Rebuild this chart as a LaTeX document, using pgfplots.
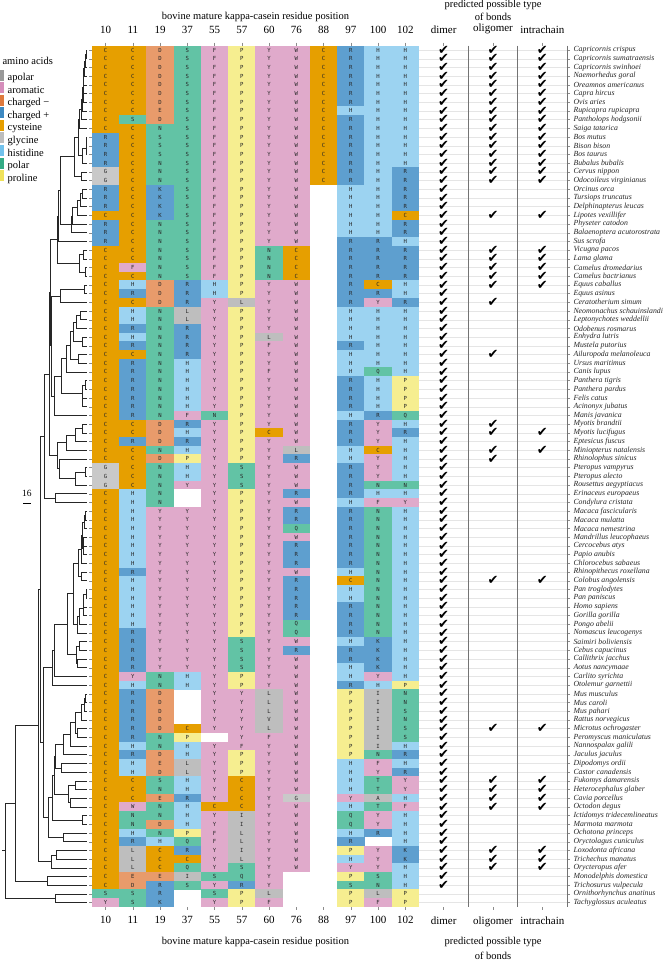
\documentclass[border=0pt]{standalone}
\usepackage{fontspec}
\setmainfont{Liberation Serif}
\newfontfamily\cellfontfam{DejaVu Sans Mono}
\newfontfamily\checkfontfam{DejaVu Sans}
\usepackage{pgfplots}
\pgfplotsset{compat=1.18}
\usepackage{pgfplotstable}

% cell colours
\definecolor{apolar}{HTML}{BEBEBE}
\definecolor{aromatic}{HTML}{E0AACB}
\definecolor{chneg}{HTML}{E89B6B}
\definecolor{chpos}{HTML}{5E9FCF}
\definecolor{cys}{HTML}{E69F00}
\definecolor{gly}{HTML}{C9C9C9}
\definecolor{his}{HTML}{9CD3F1}
\definecolor{polar}{HTML}{62C3A5}
\definecolor{pro}{HTML}{F6EE90}
% legend colours
\definecolor{apolarL}{HTML}{9A9A9A}
\definecolor{aromaticL}{HTML}{D58DBB}
\definecolor{chnegL}{HTML}{DE7A3E}
\definecolor{chposL}{HTML}{3D89C2}
\definecolor{cysL}{HTML}{E69F00}
\definecolor{glyL}{HTML}{BDBDBD}
\definecolor{hisL}{HTML}{72C2EC}
\definecolor{polarL}{HTML}{33AC86}
\definecolor{proL}{HTML}{F0E25A}

\pgfdeclareplotmark{cell}{\pgfpathrectangle{\pgfpoint{-13.75pt}{-4.45pt}}{\pgfpoint{27.5pt}{8.9pt}}\pgfusepathqfill}
\pgfdeclareplotmark{nothing}{}
\newcommand\aatext[1]{\if z#1\else#1\fi}

\pgfplotstableread{
row c10 c11 c19 c37 c55 c57 c60 c76 c88 c97 c100 c102
1 C C D S F P Y W C R H H
2 C C D S F P Y W C R H H
3 C C D S F P Y W C R H H
4 C C D S F P Y W C R H H
5 C C D S F P Y W C R H H
6 C C D S F P Y W C R H H
7 C C D S F P Y W C R H H
8 C C E S F P Y W C H H H
9 C S D S F P Y W C R H H
10 C C N S F P Y W C R H H
11 R C S S F P Y W C R H H
12 R C S S F P Y W C R H H
13 R C S S F P Y W C R H H
14 R C N S F P Y W C R H H
15 G C N S F P Y W C R H R
16 G C N S F P Y W C R H R
17 R C K S F P Y W z H H R
18 R C K S F P Y W z H H R
19 R C K S F P Y W z H H R
20 C C K S F P Y W z H H C
21 R C N S F P Y W z H H R
22 R C N S F P Y W z H H R
23 R C N S F P Y W z R R H
24 C C N S F P N C z R R R
25 C C N S F P N C z R R R
26 C F N S F P N C z R R R
27 C C N S F P N C z R R R
28 C H D R H P Y W z R C H
29 C R D R H P Y W z R R H
30 C C D R Y L Y W z R Y R
31 C H N L Y P Y W z H H H
32 C H N L Y P Y W z H H H
33 C R N R Y P Y W z H H H
34 C H N R Y P L W z H H H
35 C R N R Y P F W z R H H
36 C C N R Y P Y W z H H H
37 C R N H Y P Y W z H H H
38 C R N H Y P F W z H Q H
39 C R N H Y P Y W z R H P
40 C R N H Y P Y W z R H P
41 C R N H Y P Y W z R H P
42 C R N H Y P Y W z R H P
43 C R N F N P Y W z H R Q
44 C C D R Y P Y W z R Y H
45 C C D H Y P C W z R Y R
46 C R D R Y P Y W z R Y H
47 C C N H Y P Y L z H C H
48 C C D P Y P Y R z H Y H
49 G C N H Y S Y W z R Y H
50 G C N H Y S Y W z R Y H
51 G C N Y Y S Y W z R N N
52 C H N z Y P Y R z R H H
53 C H N z Y P Y W z H F Y
54 C H Y Y Y P Y R z R N H
55 C H Y Y Y P Y R z R N H
56 C H Y Y Y P Y Q z R N H
57 C H Y Y Y P Y W z R N H
58 C H Y Y Y P Y R z R N H
59 C H Y Y Y P Y R z R N H
60 C H Y Y Y P Y R z R N H
61 C R Y Y Y P Y W z H N H
62 C H Y Y Y P Y R z C N H
63 C H Y Y Y P Y R z H N H
64 C H Y Y Y P Y R z H N H
65 C H Y Y Y P Y R z R N H
66 C H Y Y Y P Y R z R N H
67 C H Y Y Y P Y Q z R N H
68 C R Y Y Y P Y Q z R N H
69 C R Y Y Y S Y W z H K H
70 C R Y Y Y S Y R z R K H
71 C R Y Y Y S Y W z R K H
72 C R Y Y Y S Y W z H K H
73 C Y N H Y P Y W z H Y H
74 C H N H Y P Y W z R H P
75 C R D z Y Y L W z P I N
76 C R D z Y Y L W z P I N
77 C R D z Y Y L W z P I S
78 C R D z Y Y V W z P I N
79 C R D C Y Y L W z P I S
80 C R N P z Y F W z P I S
81 C H N H Y F Y W z P I H
82 C R D H Y P Y W z P N R
83 C H E L Y P Y W z H F H
84 C H D L Y P Y W z H Y R
85 C C S H Y C Y W z H T Y
86 C C N H Y C Y W z H T Y
87 C C E R Y C Y G z Y A H
88 C W N H C C Y W z H T F
89 C N N H Y I Y W z Q Y H
90 C N D H Y I Y W z Q Y H
91 C H N P F L Y W z H R H
92 C R H Q F L Y W z R z H
93 C L C R Y I Y W z P Y K
94 C L C C Y L Y W z H Y K
95 C L C Q Y S Y W z Y Y H
96 C E E I S Q Y z z P S H
97 C D R S Y R Y z z S N H
98 S S R z S P L z z P L P
99 Y S K z Y P F z z P F P
}\aatable
% column positions 0..11 of the twelve residues
\pgfplotstablecreatecol[create col/set={0}]{p0}\aatable
\pgfplotstablecreatecol[create col/set={1}]{p1}\aatable
\pgfplotstablecreatecol[create col/set={2}]{p2}\aatable
\pgfplotstablecreatecol[create col/set={3}]{p3}\aatable
\pgfplotstablecreatecol[create col/set={4}]{p4}\aatable
\pgfplotstablecreatecol[create col/set={5}]{p5}\aatable
\pgfplotstablecreatecol[create col/set={6}]{p6}\aatable
\pgfplotstablecreatecol[create col/set={7}]{p7}\aatable
\pgfplotstablecreatecol[create col/set={8}]{p8}\aatable
\pgfplotstablecreatecol[create col/set={9}]{p9}\aatable
\pgfplotstablecreatecol[create col/set={10}]{p10}\aatable
\pgfplotstablecreatecol[create col/set={11}]{p11}\aatable

\pgfplotsset{
  aacell/.style={
    scatter, only marks, point meta=explicit symbolic,
    scatter/classes={
      A={mark=cell,apolar}, I={mark=cell,apolar}, L={mark=cell,apolar}, V={mark=cell,apolar},
      F={mark=cell,aromatic}, W={mark=cell,aromatic}, Y={mark=cell,aromatic},
      D={mark=cell,chneg}, E={mark=cell,chneg},
      K={mark=cell,chpos}, R={mark=cell,chpos},
      C={mark=cell,cys}, G={mark=cell,gly}, H={mark=cell,his},
      N={mark=cell,polar}, Q={mark=cell,polar}, S={mark=cell,polar}, T={mark=cell,polar},
      P={mark=cell,pro}, z={mark=nothing}},
  },
  aaletter/.style={
    only marks, mark=nothing,
    point meta=explicit symbolic,
    nodes near coords={\aatext{\pgfplotspointmeta}},
    nodes near coords align=center,
    every node near coord/.append style={font=\cellfontfam\fontsize{5.6}{5.6}\selectfont, text=black!85, inner sep=0pt, anchor=center},
  },
  chk/.style={only marks, mark=nothing,
    nodes near coords={\checkfontfam\fontsize{13}{13}\selectfont ✔},
    nodes near coords align=center,
    every node near coord/.append style={inner sep=0pt, anchor=center, text=black}},
}

\begin{document}
\begin{tikzpicture}
\useasboundingbox (0pt,0pt) rectangle (664pt,-963pt);

% ---------------- tree + legend ----------------
\begin{axis}[
  at={(0pt,-45.65pt)}, anchor=north west,
  scale only axis, width=87pt, height=861.3pt,
  xmin=-185, xmax=0, ymin=0.5, ymax=99.5, y dir=reverse,
  hide axis, clip=false,
  legend style={at={(rel axis cs:0,1)}, anchor=north west, xshift=-3pt, yshift=-24pt,
    draw=none, fill=none, inner sep=0pt, row sep=0pt,
    font=\fontsize{10.5}{10.5}\selectfont, nodes={inner sep=0pt},
    /tikz/every odd column/.append style={column sep=3.5pt}},
  legend cell align=left,
  legend image code/.code={\fill[#1] (0pt,-2.8pt) rectangle (7pt,8.2pt);},
]
\addplot[black!85, line width=0.5pt, unbounded coords=jump, forget plot] coordinates {
(0,1) (-1.5,1) (-1.5,2) (0,2) (nan,nan)
(-1.5,1.5) (-3,1.5) (-3,3) (0,3) (nan,nan)
(-3,2.25) (-5,2.25) (-5,4) (0,4) (nan,nan)
(-5,3.125) (-7,3.125) (-7,5) (0,5) (nan,nan)
(0,6) (-8,6) (-8,7) (0,7) (nan,nan)
(-7,4.0625) (-9,4.0625) (-9,6.5) (-8,6.5) (nan,nan)
(-9,5.28) (-10,5.28) (-10,8) (0,8) (nan,nan)
(-10,6.64) (-12,6.64) (-12,9) (0,9) (nan,nan)
(-12,7.82) (-16,7.82) (-16,10) (0,10) (nan,nan)
(0,11) (-1.5,11) (-1.5,12) (0,12) (nan,nan)
(-1.5,11.5) (-2.5,11.5) (-2.5,13) (0,13) (nan,nan)
(-2.5,12.25) (-10,12.25) (-10,14) (0,14) (nan,nan)
(-16,8.91) (-18,8.91) (-18,13.125) (-10,13.125) (nan,nan)
(0,15) (-12,15) (-12,16) (0,16) (nan,nan)
(-18,11.02) (-27,11.02) (-27,15.5) (-12,15.5) (nan,nan)
(0,17) (-10,17) (-10,18) (0,18) (nan,nan)
(-10,17.5) (-14,17.5) (-14,19) (0,19) (nan,nan)
(-14,18.25) (-20,18.25) (-20,20) (0,20) (nan,nan)
(-20,19.125) (-32,19.125) (-32,21) (0,21) (nan,nan)
(-32,20.06) (-34,20.06) (-34,22) (0,22) (nan,nan)
(-27,13.26) (-56,13.26) (-56,21.03) (-34,21.03) (nan,nan)
(-56,17.15) (-61,17.15) (-61,23) (0,23) (nan,nan)
(0,24) (-9,24) (-9,25) (0,25) (nan,nan)
(0,26) (-4,26) (-4,27) (0,27) (nan,nan)
(-9,24.5) (-16,24.5) (-16,26.5) (-4,26.5) (nan,nan)
(-61,20.07) (-64,20.07) (-64,25.5) (-16,25.5) (nan,nan)
(0,28) (-6,28) (-6,29) (0,29) (nan,nan)
(-6,28.5) (-56,28.5) (-56,30) (0,30) (nan,nan)
(0,31) (-14,31) (-14,32) (0,32) (nan,nan)
(-14,31.5) (-22,31.5) (-22,33) (0,33) (nan,nan)
(0,34) (-10,34) (-10,35) (0,35) (nan,nan)
(-22,32.25) (-30,32.25) (-30,34.5) (-10,34.5) (nan,nan)
(0,36) (-19,36) (-19,37) (0,37) (nan,nan)
(-30,33.375) (-36,33.375) (-36,36.5) (-19,36.5) (nan,nan)
(-36,34.94) (-45,34.94) (-45,38) (0,38) (nan,nan)
(0,39) (-4,39) (-4,40) (0,40) (nan,nan)
(0,41) (-10,41) (-10,42) (0,42) (nan,nan)
(-4,39.5) (-11,39.5) (-11,41.5) (-10,41.5) (nan,nan)
(-45,36.47) (-55,36.47) (-55,40.5) (-11,40.5) (nan,nan)
(-55,38.48) (-70,38.48) (-70,43) (0,43) (nan,nan)
(-56,29.25) (-76,29.25) (-76,40.74) (-70,40.74) (nan,nan)
(-64,22.79) (-78,22.79) (-78,34.99) (-76,34.99) (nan,nan)
(0,44) (-10,44) (-10,45) (0,45) (nan,nan)
(-10,44.5) (-25,44.5) (-25,46) (0,46) (nan,nan)
(-25,45.25) (-45,45.25) (-45,47) (0,47) (nan,nan)
(0,49) (-3,49) (-3,50) (0,50) (nan,nan)
(-3,49.5) (-24,49.5) (-24,51) (0,51) (nan,nan)
(0,48) (-58,48) (-58,50.25) (-24,50.25) (nan,nan)
(-45,46.125) (-64,46.125) (-64,49.125) (-58,49.125) (nan,nan)
(-78,28.89) (-80,28.89) (-80,47.625) (-64,47.625) (nan,nan)
(0,52) (-67,52) (-67,53) (0,53) (nan,nan)
(-80,38.26) (-91,38.26) (-91,52.5) (-67,52.5) (nan,nan)
(0,54) (-3,54) (-3,55) (0,55) (nan,nan)
(-3,54.5) (-5,54.5) (-5,56) (0,56) (nan,nan)
(0,57) (-7,57) (-7,58) (0,58) (nan,nan)
(-7,57.5) (-9,57.5) (-9,59) (0,59) (nan,nan)
(-5,55.25) (-10,55.25) (-10,58.25) (-9,58.25) (nan,nan)
(-10,56.75) (-12,56.75) (-12,60) (0,60) (nan,nan)
(0,61) (-13,61) (-13,62) (0,62) (nan,nan)
(-12,58.375) (-19,58.375) (-19,61.5) (-13,61.5) (nan,nan)
(0,63) (-2,63) (-2,64) (0,64) (nan,nan)
(-2,63.5) (-7,63.5) (-7,65) (0,65) (nan,nan)
(-7,64.25) (-9,64.25) (-9,66) (0,66) (nan,nan)
(-9,65.125) (-16,65.125) (-16,67) (0,67) (nan,nan)
(-16,66.06) (-20,66.06) (-20,68) (0,68) (nan,nan)
(-19,59.94) (-29,59.94) (-29,67.03) (-20,67.03) (nan,nan)
(0,69) (-16,69) (-16,70) (0,70) (nan,nan)
(0,71) (-20,71) (-20,72) (0,72) (nan,nan)
(-16,69.5) (-22,69.5) (-22,71.5) (-20,71.5) (nan,nan)
(-29,63.49) (-43,63.49) (-43,70.5) (-22,70.5) (nan,nan)
(-43,66.99) (-70,66.99) (-70,73) (0,73) (nan,nan)
(-70,69.99) (-74,69.99) (-74,74) (0,74) (nan,nan)
(0,75) (-3,75) (-3,76) (0,76) (nan,nan)
(-3,75.5) (-6,75.5) (-6,77) (0,77) (nan,nan)
(-6,76.25) (-12,76.25) (-12,78) (0,78) (nan,nan)
(0,79) (-20,79) (-20,80) (0,80) (nan,nan)
(-12,77.125) (-25,77.125) (-25,79.5) (-20,79.5) (nan,nan)
(-25,78.31) (-35,78.31) (-35,81) (0,81) (nan,nan)
(-35,79.66) (-50,79.66) (-50,82) (0,82) (nan,nan)
(0,83) (-55,83) (-55,84) (0,84) (nan,nan)
(-50,80.83) (-67,80.83) (-67,83.5) (-55,83.5) (nan,nan)
(0,85) (-25,85) (-25,86) (0,86) (nan,nan)
(0,87) (-35,87) (-35,88) (0,88) (nan,nan)
(-25,85.5) (-40,85.5) (-40,87.5) (-35,87.5) (nan,nan)
(-67,82.16) (-70,82.16) (-70,86.5) (-40,86.5) (nan,nan)
(0,89) (-10,89) (-10,90) (0,90) (nan,nan)
(-70,84.33) (-73,84.33) (-73,89.5) (-10,89.5) (nan,nan)
(0,91) (-50,91) (-50,92) (0,92) (nan,nan)
(-73,86.92) (-82,86.92) (-82,91.5) (-50,91.5) (nan,nan)
(-74,72.0) (-93,72.0) (-93,89.21) (-82,89.21) (nan,nan)
(-91,45.38) (-100,45.38) (-100,80.6) (-93,80.6) (nan,nan)
(0,93) (-65,93) (-65,94) (0,94) (nan,nan)
(-65,93.5) (-75,93.5) (-75,95) (0,95) (nan,nan)
(-100,62.99) (-104,62.99) (-104,94.25) (-75,94.25) (nan,nan)
(0,96) (-85,96) (-85,97) (0,97) (nan,nan)
(-104,78.62) (-153,78.62) (-153,96.5) (-85,96.5) (nan,nan)
(0,98) (-68,98) (-68,99) (0,99) (nan,nan)
(-153,87.56) (-173,87.56) (-173,98.5) (-68,98.5) (nan,nan)
(-173,93.03) (-180,93.03)
};
% scale bar
\addplot[black, line width=0.6pt, forget plot] coordinates {(-135.6,53.1) (-119.6,53.1)};
\node[font=\fontsize{9.5}{9.5}\selectfont] at (axis cs:-127.6,52.0) {16};
\addlegendimage{fill=apolarL, draw=none}\addlegendentry{apolar}
\addlegendimage{fill=aromaticL, draw=none}\addlegendentry{aromatic}
\addlegendimage{fill=chnegL, draw=none}\addlegendentry{charged −}
\addlegendimage{fill=chposL, draw=none}\addlegendentry{charged +}
\addlegendimage{fill=cysL, draw=none}\addlegendentry{cysteine}
\addlegendimage{fill=glyL, draw=none}\addlegendentry{glycine}
\addlegendimage{fill=hisL, draw=none}\addlegendentry{histidine}
\addlegendimage{fill=polarL, draw=none}\addlegendentry{polar}
\addlegendimage{fill=proL, draw=none}\addlegendentry{proline}
\end{axis}

% ---------------- heatmap ----------------
\begin{axis}[
  at={(92pt,-45.65pt)}, anchor=north west,
  scale only axis, width=327pt, height=861.3pt,
  xmin=-0.5, xmax=11.5, ymin=0.5, ymax=99.5, y dir=reverse,
  axis line style={draw=none}, clip=false,
  xtick={0,...,11}, xticklabels={10,11,19,37,55,57,60,76,88,97,100,102},
  xtick pos=right, xticklabel pos=right,
  ytick={1,...,99}, yticklabels={}, ytick pos=left,
  tick align=outside, major tick length=3pt, tick style={black!45, line width=0.4pt},
  xticklabel style={font=\fontsize{11}{11}\selectfont, yshift=5.5pt},
]
\addplot[aacell] table[x=p0, y=row, meta=c10] {\aatable};
\addplot[aacell] table[x=p1, y=row, meta=c11] {\aatable};
\addplot[aacell] table[x=p2, y=row, meta=c19] {\aatable};
\addplot[aacell] table[x=p3, y=row, meta=c37] {\aatable};
\addplot[aacell] table[x=p4, y=row, meta=c55] {\aatable};
\addplot[aacell] table[x=p5, y=row, meta=c57] {\aatable};
\addplot[aacell] table[x=p6, y=row, meta=c60] {\aatable};
\addplot[aacell] table[x=p7, y=row, meta=c76] {\aatable};
\addplot[aacell] table[x=p8, y=row, meta=c88] {\aatable};
\addplot[aacell] table[x=p9, y=row, meta=c97] {\aatable};
\addplot[aacell] table[x=p10, y=row, meta=c100] {\aatable};
\addplot[aacell] table[x=p11, y=row, meta=c102] {\aatable};
\addplot[aaletter] table[x=p0, y=row, meta=c10] {\aatable};
\addplot[aaletter] table[x=p1, y=row, meta=c11] {\aatable};
\addplot[aaletter] table[x=p2, y=row, meta=c19] {\aatable};
\addplot[aaletter] table[x=p3, y=row, meta=c37] {\aatable};
\addplot[aaletter] table[x=p4, y=row, meta=c55] {\aatable};
\addplot[aaletter] table[x=p5, y=row, meta=c57] {\aatable};
\addplot[aaletter] table[x=p6, y=row, meta=c60] {\aatable};
\addplot[aaletter] table[x=p7, y=row, meta=c76] {\aatable};
\addplot[aaletter] table[x=p8, y=row, meta=c88] {\aatable};
\addplot[aaletter] table[x=p9, y=row, meta=c97] {\aatable};
\addplot[aaletter] table[x=p10, y=row, meta=c100] {\aatable};
\addplot[aaletter] table[x=p11, y=row, meta=c102] {\aatable};
\end{axis}
% bottom labels for heatmap
\begin{axis}[
  at={(92pt,-45.65pt)}, anchor=north west,
  scale only axis, width=327pt, height=861.3pt,
  xmin=-0.5, xmax=11.5, ymin=0.5, ymax=99.5, y dir=reverse,
  axis line style={draw=none},
  xtick={0,...,11}, xticklabels={10,11,19,37,55,57,60,76,88,97,100,102},
  xtick pos=left, xticklabel pos=left, ytick=\empty,
  tick align=outside, major tick length=3pt, tick style={black!45, line width=0.4pt},
  xticklabel style={font=\fontsize{11}{11}\selectfont, yshift=-3pt},
]
\addplot[draw=none, forget plot] coordinates {(0,1)};
\end{axis}

% ---------------- checks ----------------
\begin{axis}[
  at={(419pt,-45.65pt)}, anchor=north west,
  scale only axis, width=148pt, height=861.3pt,
  xmin=0, xmax=3, ymin=0.5, ymax=99.5, y dir=reverse,
  axis line style={draw=none}, clip=false,
  xtick={0.5,1.5,2.5}, xticklabels={dimer,oligomer,intrachain},
  xtick pos=right, xticklabel pos=right,
  ytick={1,...,99}, ytick pos=right, yticklabel pos=right,
  yticklabels={Capricornis crispus,Capricornis sumatraensis,Capricornis swinhoei,Naemorhedus goral,Oreamnos americanus,Capra hircus,Ovis aries,Rupicapra rupicapra,Pantholops hodgsonii,Saiga tatarica,Bos mutus,Bison bison,Bos taurus,Bubalus bubalis,Cervus nippon,Odocoileus virginianus,Orcinus orca,Tursiops truncatus,Delphinapterus leucas,Lipotes vexillifer,Physeter catodon,Balaenoptera acutorostrata,Sus scrofa,Vicugna pacos,Lama glama,Camelus dromedarius,Camelus bactrianus,Equus caballus,Equus asinus,Ceratotherium simum,Neomonachus schauinslandi,Leptonychotes weddellii,Odobenus rosmarus,Enhydra lutris,Mustela putorius,Ailuropoda melanoleuca,Ursus maritimus,Canis lupus,Panthera tigris,Panthera pardus,Felis catus,Acinonyx jubatus,Manis javanica,Myotis brandtii,Myotis lucifugus,Eptesicus fuscus,Miniopterus natalensis,Rhinolophus sinicus,Pteropus vampyrus,Pteropus alecto,Rousettus aegyptiacus,Erinaceus europaeus,Condylura cristata,Macaca fascicularis,Macaca mulatta,Macaca nemestrina,Mandrillus leucophaeus,Cercocebus atys,Papio anubis,Chlorocebus sabaeus,Rhinopithecus roxellana,Colobus angolensis,Pan troglodytes,Pan paniscus,Homo sapiens,Gorilla gorilla,Pongo abelii,Nomascus leucogenys,Saimiri boliviensis,Cebus capucinus,Callithrix jacchus,Aotus nancymaae,Carlito syrichta,Otolemur garnettii,Mus musculus,Mus caroli,Mus pahari,Rattus norvegicus,Microtus ochrogaster,Peromyscus maniculatus,Nannospalax galili,Jaculus jaculus,Dipodomys ordii,Castor canadensis,Fukomys damarensis,Heterocephalus glaber,Cavia porcellus,Octodon degus,Ictidomys tridecemlineatus,Marmota marmota,Ochotona princeps,Oryctolagus cuniculus,Loxodonta africana,Trichechus manatus,Orycteropus afer,Monodelphis domestica,Trichosurus vulpecula,Ornithorhynchus anatinus,Tachyglossus aculeatus},
  ymajorgrids, major grid style={black!10, line width=0.3pt},
  extra x ticks={1,2,3}, extra x tick labels={},
  extra x tick style={grid=major, major grid style={black!55, line width=0.5pt}, major tick length=0pt},
  tick align=outside, major tick length=3pt, tick style={black!45, line width=0.4pt},
  xticklabel style={font=\fontsize{11}{11}\selectfont, yshift=5.5pt},
  yticklabel style={font=\itshape\fontsize{7.8}{7.8}\selectfont, text=black!85},
]
\addplot[chk] coordinates {
(0.5,1)(0.5,2)(0.5,3)(0.5,4)(0.5,5)(0.5,6)(0.5,7)(0.5,8)(0.5,9)(0.5,10)
(0.5,11)(0.5,12)(0.5,13)(0.5,14)(0.5,15)(0.5,16)(0.5,17)(0.5,18)(0.5,19)(0.5,20)
(0.5,21)(0.5,22)(0.5,23)(0.5,24)(0.5,25)(0.5,26)(0.5,27)(0.5,28)(0.5,29)(0.5,30)
(0.5,31)(0.5,32)(0.5,33)(0.5,34)(0.5,35)(0.5,36)(0.5,37)(0.5,38)(0.5,39)(0.5,40)
(0.5,41)(0.5,42)(0.5,43)(0.5,44)(0.5,45)(0.5,46)(0.5,47)(0.5,48)(0.5,49)(0.5,50)
(0.5,51)(0.5,52)(0.5,53)(0.5,54)(0.5,55)(0.5,56)(0.5,57)(0.5,58)(0.5,59)(0.5,60)
(0.5,61)(0.5,62)(0.5,63)(0.5,64)(0.5,65)(0.5,66)(0.5,67)(0.5,68)(0.5,69)(0.5,70)
(0.5,71)(0.5,72)(0.5,73)(0.5,74)(0.5,75)(0.5,76)(0.5,77)(0.5,78)(0.5,79)(0.5,80)
(0.5,81)(0.5,82)(0.5,83)(0.5,84)(0.5,85)(0.5,86)(0.5,87)(0.5,88)(0.5,89)(0.5,90)
(0.5,91)(0.5,92)(0.5,93)(0.5,94)(0.5,95)(0.5,96)(0.5,97)
};
\addplot[chk] coordinates {
(1.5,1)(1.5,2)(1.5,3)(1.5,4)(1.5,5)(1.5,6)(1.5,7)(1.5,8)(1.5,9)(1.5,10)
(1.5,11)(1.5,12)(1.5,13)(1.5,14)(1.5,15)(1.5,16)(1.5,20)
(1.5,24)(1.5,25)(1.5,26)(1.5,27)(1.5,28)(1.5,30)(1.5,36)
(1.5,44)(1.5,45)(1.5,47)(1.5,48)(1.5,62)(1.5,79)
(1.5,85)(1.5,86)(1.5,87)(1.5,88)(1.5,93)(1.5,94)(1.5,95)
};
\addplot[chk] coordinates {
(2.5,1)(2.5,2)(2.5,3)(2.5,4)(2.5,5)(2.5,6)(2.5,7)(2.5,8)(2.5,9)(2.5,10)
(2.5,11)(2.5,12)(2.5,13)(2.5,14)(2.5,15)(2.5,16)(2.5,20)
(2.5,24)(2.5,25)(2.5,26)(2.5,27)(2.5,28)
(2.5,45)(2.5,47)(2.5,62)(2.5,79)
(2.5,85)(2.5,86)(2.5,87)(2.5,88)(2.5,93)(2.5,94)(2.5,95)
};
\end{axis}
% bottom labels for checks
\begin{axis}[
  at={(419pt,-45.65pt)}, anchor=north west,
  scale only axis, width=148pt, height=861.3pt,
  xmin=0, xmax=3, ymin=0.5, ymax=99.5, y dir=reverse,
  axis line style={draw=none},
  xtick={0.5,1.5,2.5}, xticklabels={dimer,oligomer,intrachain},
  xtick pos=left, xticklabel pos=left, ytick=\empty,
  tick align=outside, major tick length=3pt, tick style={black!45, line width=0.4pt},
  xticklabel style={font=\fontsize{11}{11}\selectfont, yshift=-3pt},
]
\addplot[draw=none, forget plot] coordinates {(1,1)};
\end{axis}

% titles
\node[font=\fontsize{10.5}{10.5}\selectfont] at (255.5pt,-16.5pt) {bovine mature kappa-casein residue position};
\node[font=\fontsize{10.5}{10.5}\selectfont] at (255.5pt,-942pt) {bovine mature kappa-casein residue position};
\node[font=\fontsize{10.5}{10.5}\selectfont] at (493pt,-4.5pt) {predicted possible type};
\node[font=\fontsize{10.5}{10.5}\selectfont] at (493pt,-16.5pt) {of bonds};
\node[font=\fontsize{10.5}{10.5}\selectfont] at (493pt,-942pt) {predicted possible type};
\node[font=\fontsize{10.5}{10.5}\selectfont] at (493pt,-955.5pt) {of bonds};
\node[font=\fontsize{10.5}{10.5}\selectfont, anchor=west] at (-1pt,-61pt) {amino acids};
\end{tikzpicture}
\end{document}
